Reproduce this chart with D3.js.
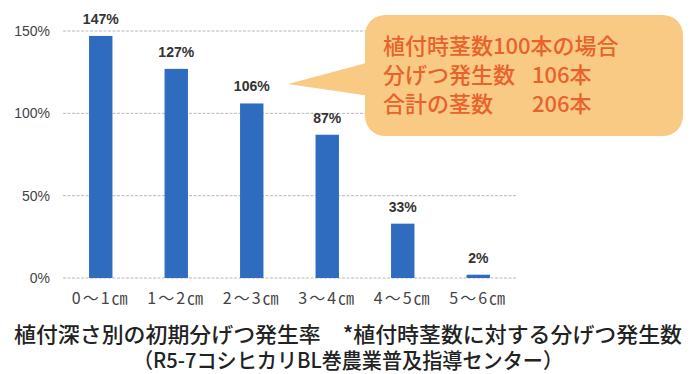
<!DOCTYPE html>
<html>
<head>
<meta charset="utf-8">
<script src="https://d3js.org/d3.v7.min.js"></script>
<style>
  body { margin: 0; background: #fff; }
  svg { display: block; }
</style>
</head>
<body>
<div id="chart"></div>
<script>
// data
const depths = ["0～1㎝", "1～2㎝", "2～3㎝", "3～4㎝", "4～5㎝", "5～6㎝"];
const rates = [147, 127, 106, 87, 33, 2];
const yTicks = [0, 50, 100, 150];
const noteLabels = ["植付時茎数100本の場合", "分げつ発生数", "合計の茎数"];
const noteValues = ["", "106本", "206本"];
const titleLines = ["植付深さ別の初期分げつ発生率　*植付時茎数に対する分げつ発生数",
                    "（R5-7コシヒカリBL巻農業普及指導センター）"];

const W = 697, H = 374;
const narrow = "'Liberation Sans Narrow', 'Liberation Sans', sans-serif";
const jp = "'Noto Sans CJK JP', sans-serif";

const svg = d3.select("#chart").append("svg")
    .attr("width", W).attr("height", H);

const x = d3.scaleBand()
    .domain(depths)
    .range([63, 516])
    .paddingInner(0.69)
    .paddingOuter(0.345);

const y = d3.scaleLinear()
    .domain([0, 150])
    .range([278, 31]);

// grid lines
svg.append("g").selectAll("line")
    .data(yTicks)
    .join("line")
    .attr("x1", 63).attr("x2", 516)
    .attr("y1", d => y(d)).attr("y2", d => y(d))
    .attr("stroke", "#b8b8b8")
    .attr("stroke-width", 1)
    .attr("stroke-dasharray", "3,1.5");

// y labels
svg.append("g").selectAll("text")
    .data(yTicks)
    .join("text")
    .attr("x", 50)
    .attr("y", d => y(d) + 5)
    .attr("text-anchor", "end")
    .style("font-family", narrow)
    .style("font-size", "14px")
    .attr("fill", "#444")
    .text(d => d + "%");

// bars
svg.append("g").selectAll("rect")
    .data(rates)
    .join("rect")
    .attr("x", (d, i) => x(depths[i]))
    .attr("y", d => y(d))
    .attr("width", x.bandwidth())
    .attr("height", d => y(0) - y(d))
    .attr("fill", "#2f6cc0");

// value labels
svg.append("g").selectAll("text")
    .data(rates)
    .join("text")
    .attr("x", (d, i) => x(depths[i]) + x.bandwidth() / 2)
    .attr("y", d => y(d) - 12)
    .attr("text-anchor", "middle")
    .style("font-family", narrow)
    .style("font-size", "14px")
    .style("font-weight", "bold")
    .attr("fill", "#333")
    .text(d => d + "%");

// x labels
svg.append("g").selectAll("text")
    .data(depths)
    .join("text")
    .attr("x", d => x(d) + x.bandwidth() / 2)
    .attr("y", 304)
    .attr("text-anchor", "middle")
    .style("font-family", jp)
    .style("font-size", "16px")
    .style("letter-spacing", "2px")
    .attr("fill", "#444")
    .text(d => d);

// callout bubble
const note = svg.append("g");
note.append("path")
    .attr("d", "M288,84 L370,62 L370,96 Z")
    .attr("fill", "#f8ca84");
note.append("rect")
    .attr("x", 365).attr("y", 15)
    .attr("width", 318).attr("height", 121)
    .attr("rx", 20)
    .attr("fill", "#f8ca84");

note.selectAll("text.lab")
    .data(noteLabels)
    .join("text")
    .attr("class", "lab")
    .attr("x", 383)
    .attr("y", (d, i) => 54 + i * 29)
    .style("font-family", jp)
    .style("font-size", "22px")
    .style("font-weight", "500")
    .attr("fill", "#e8622c")
    .text(d => d);

note.selectAll("text.val")
    .data(noteValues)
    .join("text")
    .attr("class", "val")
    .attr("x", 532)
    .attr("y", (d, i) => 54 + i * 29)
    .style("font-family", jp)
    .style("font-size", "22px")
    .style("font-weight", "500")
    .attr("fill", "#e8622c")
    .text(d => d);

// caption
const titleWidths = [668, 430];
svg.append("g").selectAll("text")
    .data(titleLines)
    .join("text")
    .attr("x", 348)
    .attr("y", (d, i) => 342 + i * 26)
    .attr("text-anchor", "middle")
    .attr("textLength", (d, i) => titleWidths[i])
    .attr("lengthAdjust", "spacingAndGlyphs")
    .style("font-family", jp)
    .style("font-size", "21px")
    .style("font-weight", "500")
    .attr("fill", "#222")
    .text(d => d);
</script>
</body>
</html>
